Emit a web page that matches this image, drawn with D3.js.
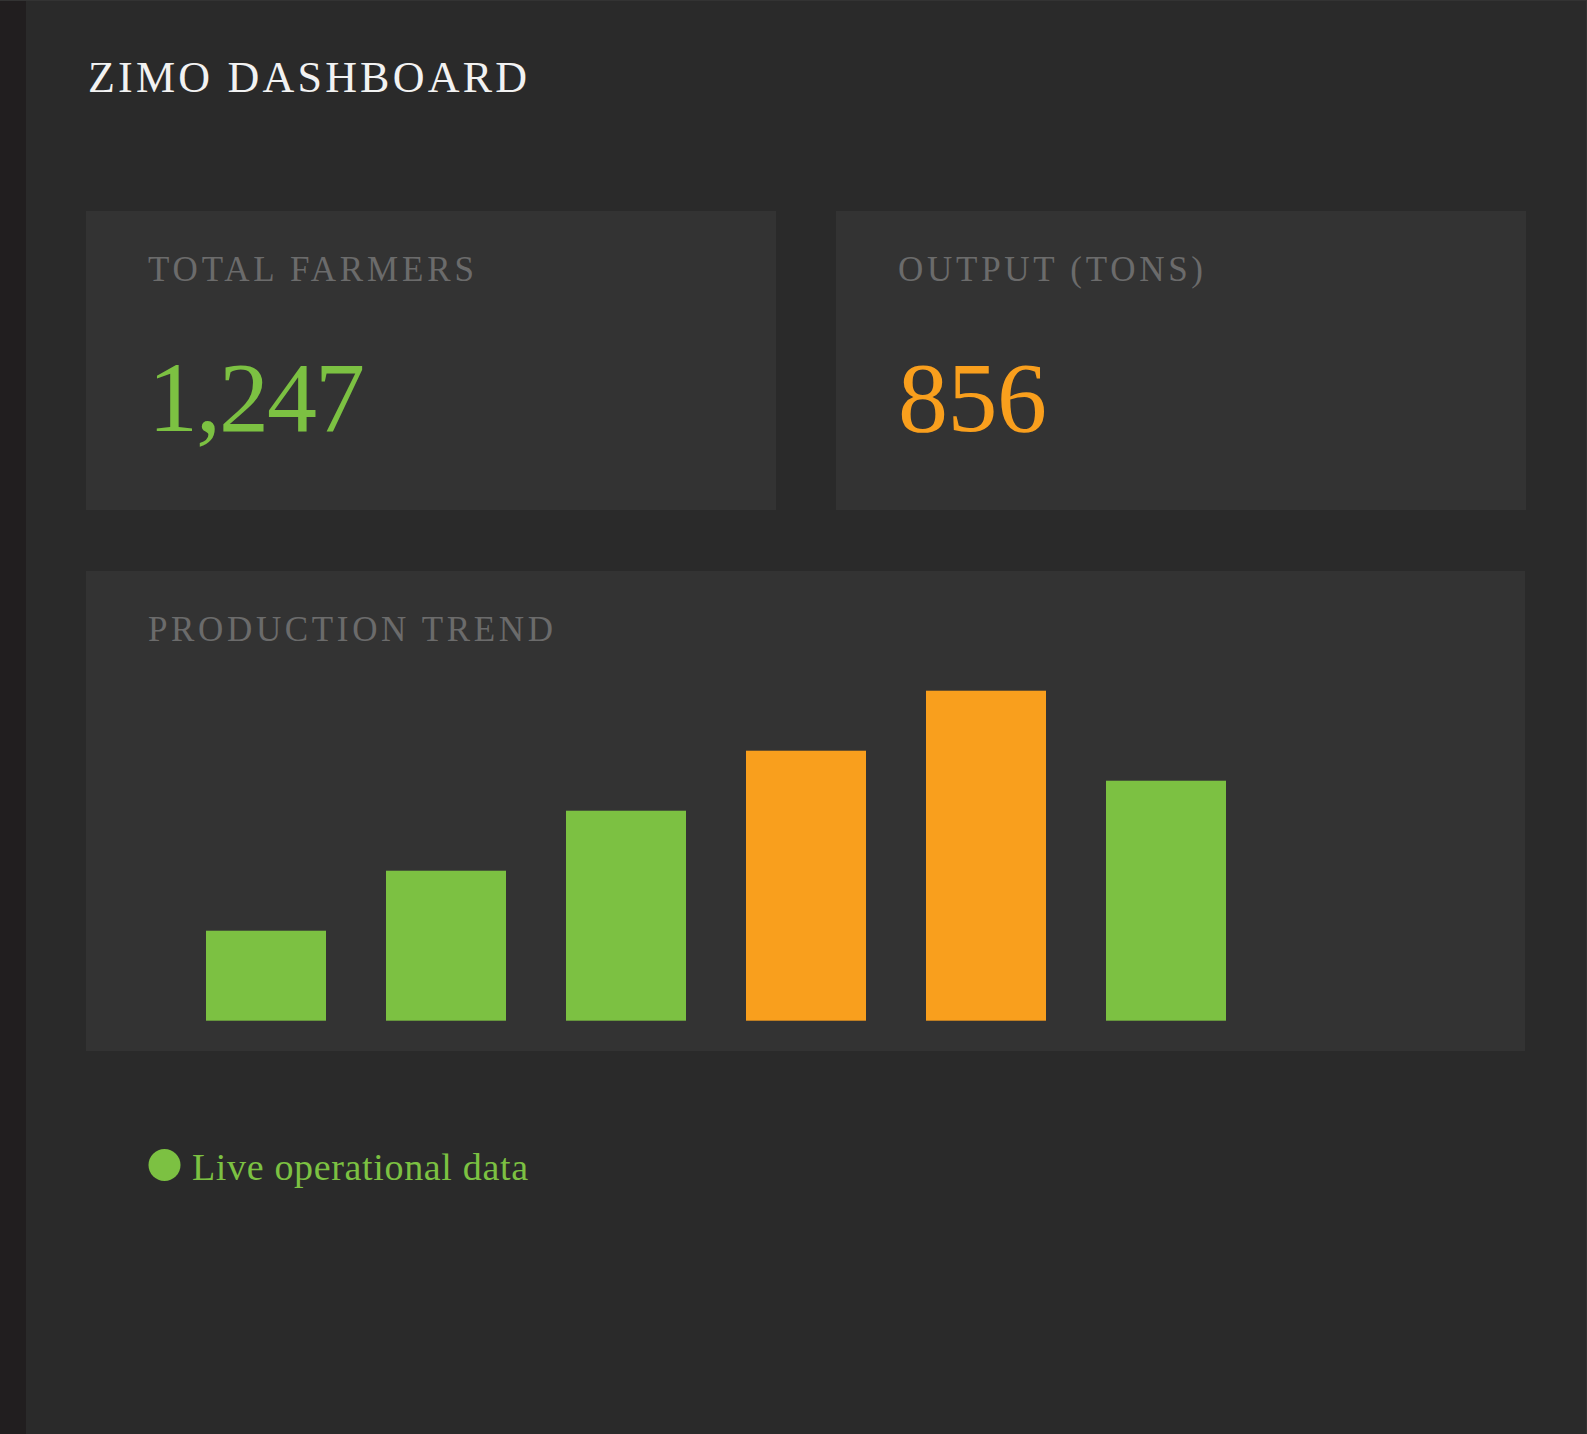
<!DOCTYPE html>
<html>
<head>
<meta charset="utf-8">
<script src="https://cdn.jsdelivr.net/npm/d3@7"></script>
<style>
  html, body { margin: 0; padding: 0; background: #2a2a2a; }
  svg { display: block; }
  text { font-family: "Liberation Serif", "DejaVu Serif", serif; }
</style>
</head>
<body>
<svg width="1587" height="1434"></svg>
<script>
const kpiLabels = ['TOTAL FARMERS', 'OUTPUT (TONS)']
const kpiValues = [1247, 856]
const months = ['Jan', 'Feb', 'Mar', 'Apr', 'May', 'Jun']
const production = [30, 50, 70, 90, 110, 80]

const green = '#7cc142'
const orange = '#f99f1d'

const svg = d3.select('svg')
const width = +svg.attr('width')
const height = +svg.attr('height')

// page frame
svg.append('rect').attr('width', width).attr('height', height).attr('fill', '#2a2a2a')
svg.append('rect').attr('width', 26).attr('height', height).attr('fill', '#211e1f')
svg.append('rect').attr('width', width).attr('height', 1).attr('fill', '#333')
svg.append('rect').attr('x', width - 1).attr('width', 1).attr('height', height).attr('fill', '#333')

svg.append('text').attr('x', 88).attr('y', 92)
  .attr('font-size', 44).attr('fill', '#f2f2f2')
  .attr('textLength', 439).attr('lengthAdjust', 'spacing')
  .text('ZIMO DASHBOARD')

// kpi cards
const cardX = d3.scaleBand().domain(kpiLabels).range([86, 1526]).paddingInner(60 / 750)
const labelWidths = [326, 305]
const numWidths = [217, 149]

const card = svg.append('g').selectAll('g').data(kpiLabels).enter().append('g')
  .attr('transform', d => `translate(${cardX(d)},211)`)

card.append('rect').attr('width', cardX.bandwidth()).attr('height', 299).attr('fill', '#333333')

card.append('text').attr('x', 62).attr('y', 70)
  .attr('font-size', 35).attr('fill', '#6b6b6b')
  .attr('textLength', (d, i) => labelWidths[i]).attr('lengthAdjust', 'spacing')
  .text(d => d)

card.append('text').attr('x', 62).attr('y', 220)
  .attr('font-size', 100).attr('fill', (d, i) => i === 0 ? green : orange)
  .attr('textLength', (d, i) => numWidths[i]).attr('lengthAdjust', 'spacing')
  .text((d, i) => d3.format(',')(kpiValues[i]))

// production trend
svg.append('rect').attr('x', 86).attr('y', 571).attr('width', 1439).attr('height', 480).attr('fill', '#333333')

svg.append('text').attr('x', 148).attr('y', 641)
  .attr('font-size', 35).attr('fill', '#6b6b6b')
  .attr('textLength', 405).attr('lengthAdjust', 'spacing')
  .text('PRODUCTION TREND')

const x = d3.scaleBand().domain(months).range([176, 1256]).paddingInner(1 / 3).paddingOuter(1 / 6)
const y = d3.scaleLinear().domain([0, 120]).range([1020.7, 660.7])

svg.append('g').selectAll('rect').data(production).enter().append('rect')
  .attr('x', (d, i) => x(months[i]))
  .attr('y', d => y(d))
  .attr('width', x.bandwidth())
  .attr('height', d => y(0) - y(d))
  .attr('fill', d => d >= 90 ? orange : green)

// footer
svg.append('circle').attr('cx', 164.5).attr('cy', 1165).attr('r', 16).attr('fill', green)
svg.append('text').attr('x', 192).attr('y', 1180)
  .attr('font-size', 38).attr('fill', green)
  .attr('textLength', 336).attr('lengthAdjust', 'spacing')
  .text('Live operational data')
</script>
</body>
</html>
